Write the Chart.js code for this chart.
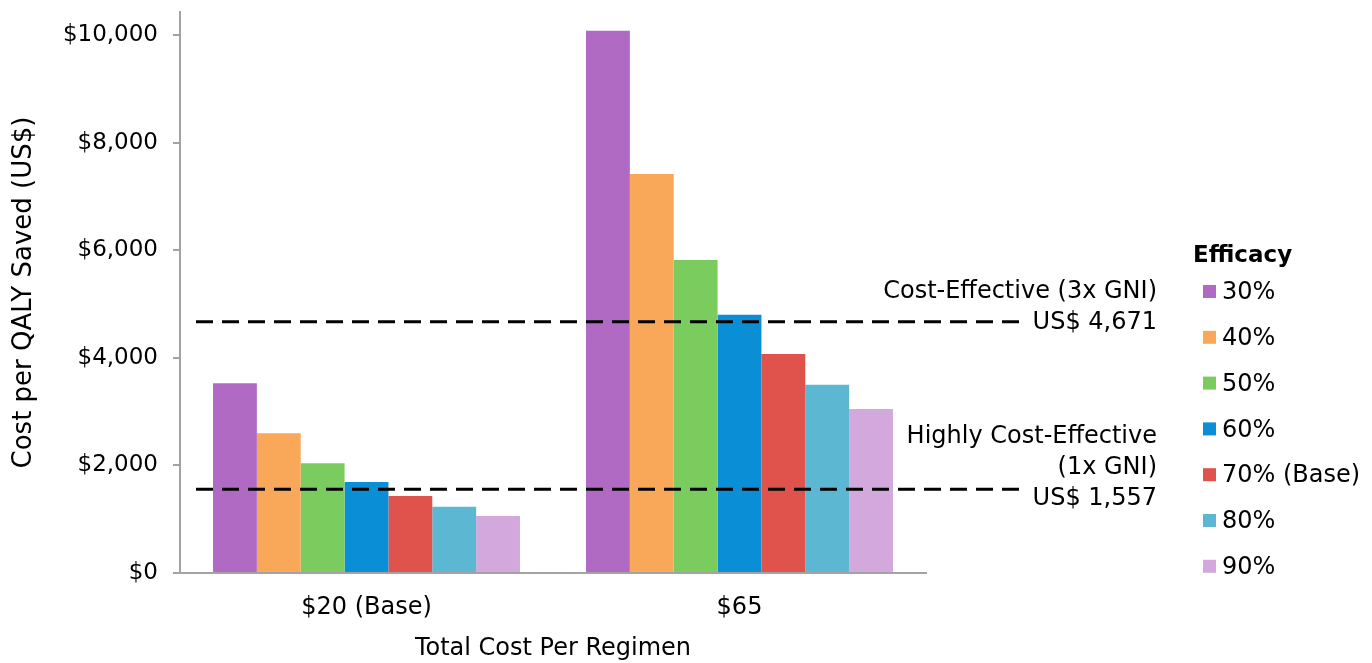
<!DOCTYPE html>
<html>
<head>
<meta charset="utf-8">
<title>Cost per QALY Saved</title>
<script src="https://cdn.jsdelivr.net/npm/chart.js@4.4.1/dist/chart.umd.min.js"></script>
<style>
  html, body { margin: 0; padding: 0; background: #fff; }
  canvas { display: block; }
</style>
</head>
<body>
<canvas id="qalyChart" width="1372" height="663"></canvas>
<script>
// regimen cost groups on the x axis
const regimens = ['$20 (Base)', '$65']
// efficacy levels, one bar each
const efficacy = ['30%', '40%', '50%', '60%', '70% (Base)', '80%', '90%']
const efficacyColors = ['#B06AC4', '#F9A85A', '#7ACC5F', '#0A8FD6', '#E0524C', '#5CB8D2', '#D3A9DD']
// cost per QALY saved (US$), by efficacy level
const cost20 = [3530, 2600, 2040, 1690, 1430, 1230, 1060]
const cost65 = [10080, 7420, 5820, 4800, 4070, 3500, 3050]
// willingness-to-pay thresholds
const thresholdValues = [4671, 1557]
const thresholdText = [
  ['Cost-Effective (3x GNI)', 'US$ 4,671'],
  ['Highly Cost-Effective', '(1x GNI)', 'US$ 1,557'],
]
const yTicks = [0, 2000, 4000, 6000, 8000, 10000]

const FONT = "'DejaVu Sans', sans-serif"
const AXIS_GREY = '#a3a3a3'

Chart.defaults.font.family = FONT
Chart.defaults.font.size = 24
Chart.defaults.color = '#000'

// dashed threshold lines, labelled at their right end
const thresholds = {
  id: 'thresholds',
  afterDatasetsDraw(chart, args, opts) {
    const { ctx, chartArea } = chart
    const y = chart.scales.y
    ctx.save()
    thresholdValues.forEach((v, i) => {
      const py = y.getPixelForValue(v)
      ctx.beginPath()
      ctx.setLineDash([17, 9])
      ctx.lineWidth = 3
      ctx.strokeStyle = '#000'
      ctx.moveTo(chartArea.left + 16, py)
      ctx.lineTo(chartArea.right + 97, py)
      ctx.stroke()

      // label block ends just under the line
      const lines = thresholdText[i]
      const base = py + opts.textShift[i]
      ctx.setLineDash([])
      ctx.fillStyle = '#000'
      ctx.font = '24px ' + FONT
      ctx.textAlign = 'right'
      ctx.textBaseline = 'middle'
      lines.forEach((t, j) => {
        ctx.fillText(t, chartArea.right + 231, base - (lines.length - 1 - j) * 31)
      })
    })
    ctx.restore()
  },
}

// efficacy key on the right
const efficacyKey = {
  id: 'efficacyKey',
  afterDraw(chart) {
    const { ctx } = chart
    const x = chart.chartArea.right + 267
    ctx.save()
    ctx.fillStyle = '#000'
    ctx.textAlign = 'left'
    ctx.textBaseline = 'middle'
    ctx.font = 'bold 23px ' + FONT
    ctx.fillText('Efficacy', x, 256)
    ctx.font = '24px ' + FONT
    chart.data.datasets.forEach((ds, i) => {
      const cy = 293 + i * 45.8
      ctx.fillStyle = ds.backgroundColor
      ctx.fillRect(x + 10, cy - 8, 13, 13)
      ctx.fillStyle = '#000'
      ctx.fillText(ds.label, x + 29, cy)
    })
    ctx.restore()
  },
}

const ctx = document.getElementById('qalyChart').getContext('2d')
const qalyChart = new Chart(ctx, {
  type: 'bar',
  data: {
    labels: regimens,
    datasets: efficacy.map((label, i) => ({
      label: label,
      data: [cost20[i], cost65[i]],
      backgroundColor: efficacyColors[i],
      borderWidth: 0,
      categoryPercentage: 0.823,
      barPercentage: 1.0,
    })),
  },
  options: {
    responsive: false,
    animation: false,
    layout: {
      padding: { left: 0, right: 446, top: 12, bottom: 0 },
    },
    plugins: {
      legend: { display: false },
      tooltip: { enabled: false },
      thresholds: { textShift: [1, 10] },
    },
    scales: {
      x: {
        grid: { display: false },
        border: { display: true, color: AXIS_GREY, width: 2 },
        ticks: { padding: 12 },
        title: {
          display: true,
          text: 'Total Cost Per Regimen',
          padding: { top: 0, bottom: 0 },
        },
        afterFit(scale) {
          scale.height = 90
        },
      },
      y: {
        min: 0,
        max: 10430,
        afterBuildTicks(axis) {
          axis.ticks = yTicks.map((v) => ({ value: v }))
        },
        grid: {
          drawOnChartArea: false,
          drawTicks: true,
          tickLength: 7,
          color: AXIS_GREY,
          lineWidth: 2,
        },
        border: { display: true, color: AXIS_GREY, width: 2 },
        ticks: {
          padding: 15,
          font: { size: 23 },
          callback: (v) => '$' + Number(v).toLocaleString('en-US'),
        },
        title: {
          display: true,
          text: 'Cost per QALY Saved (US$)',
          font: { size: 26 },
          padding: { top: 9, bottom: 0 },
        },
        afterFit(scale) {
          scale.width = 180
          // top label sits below the axis end, no extra room needed
          scale.paddingTop = 0
        },
      },
    },
  },
  plugins: [thresholds, efficacyKey],
})
</script>
</body>
</html>
